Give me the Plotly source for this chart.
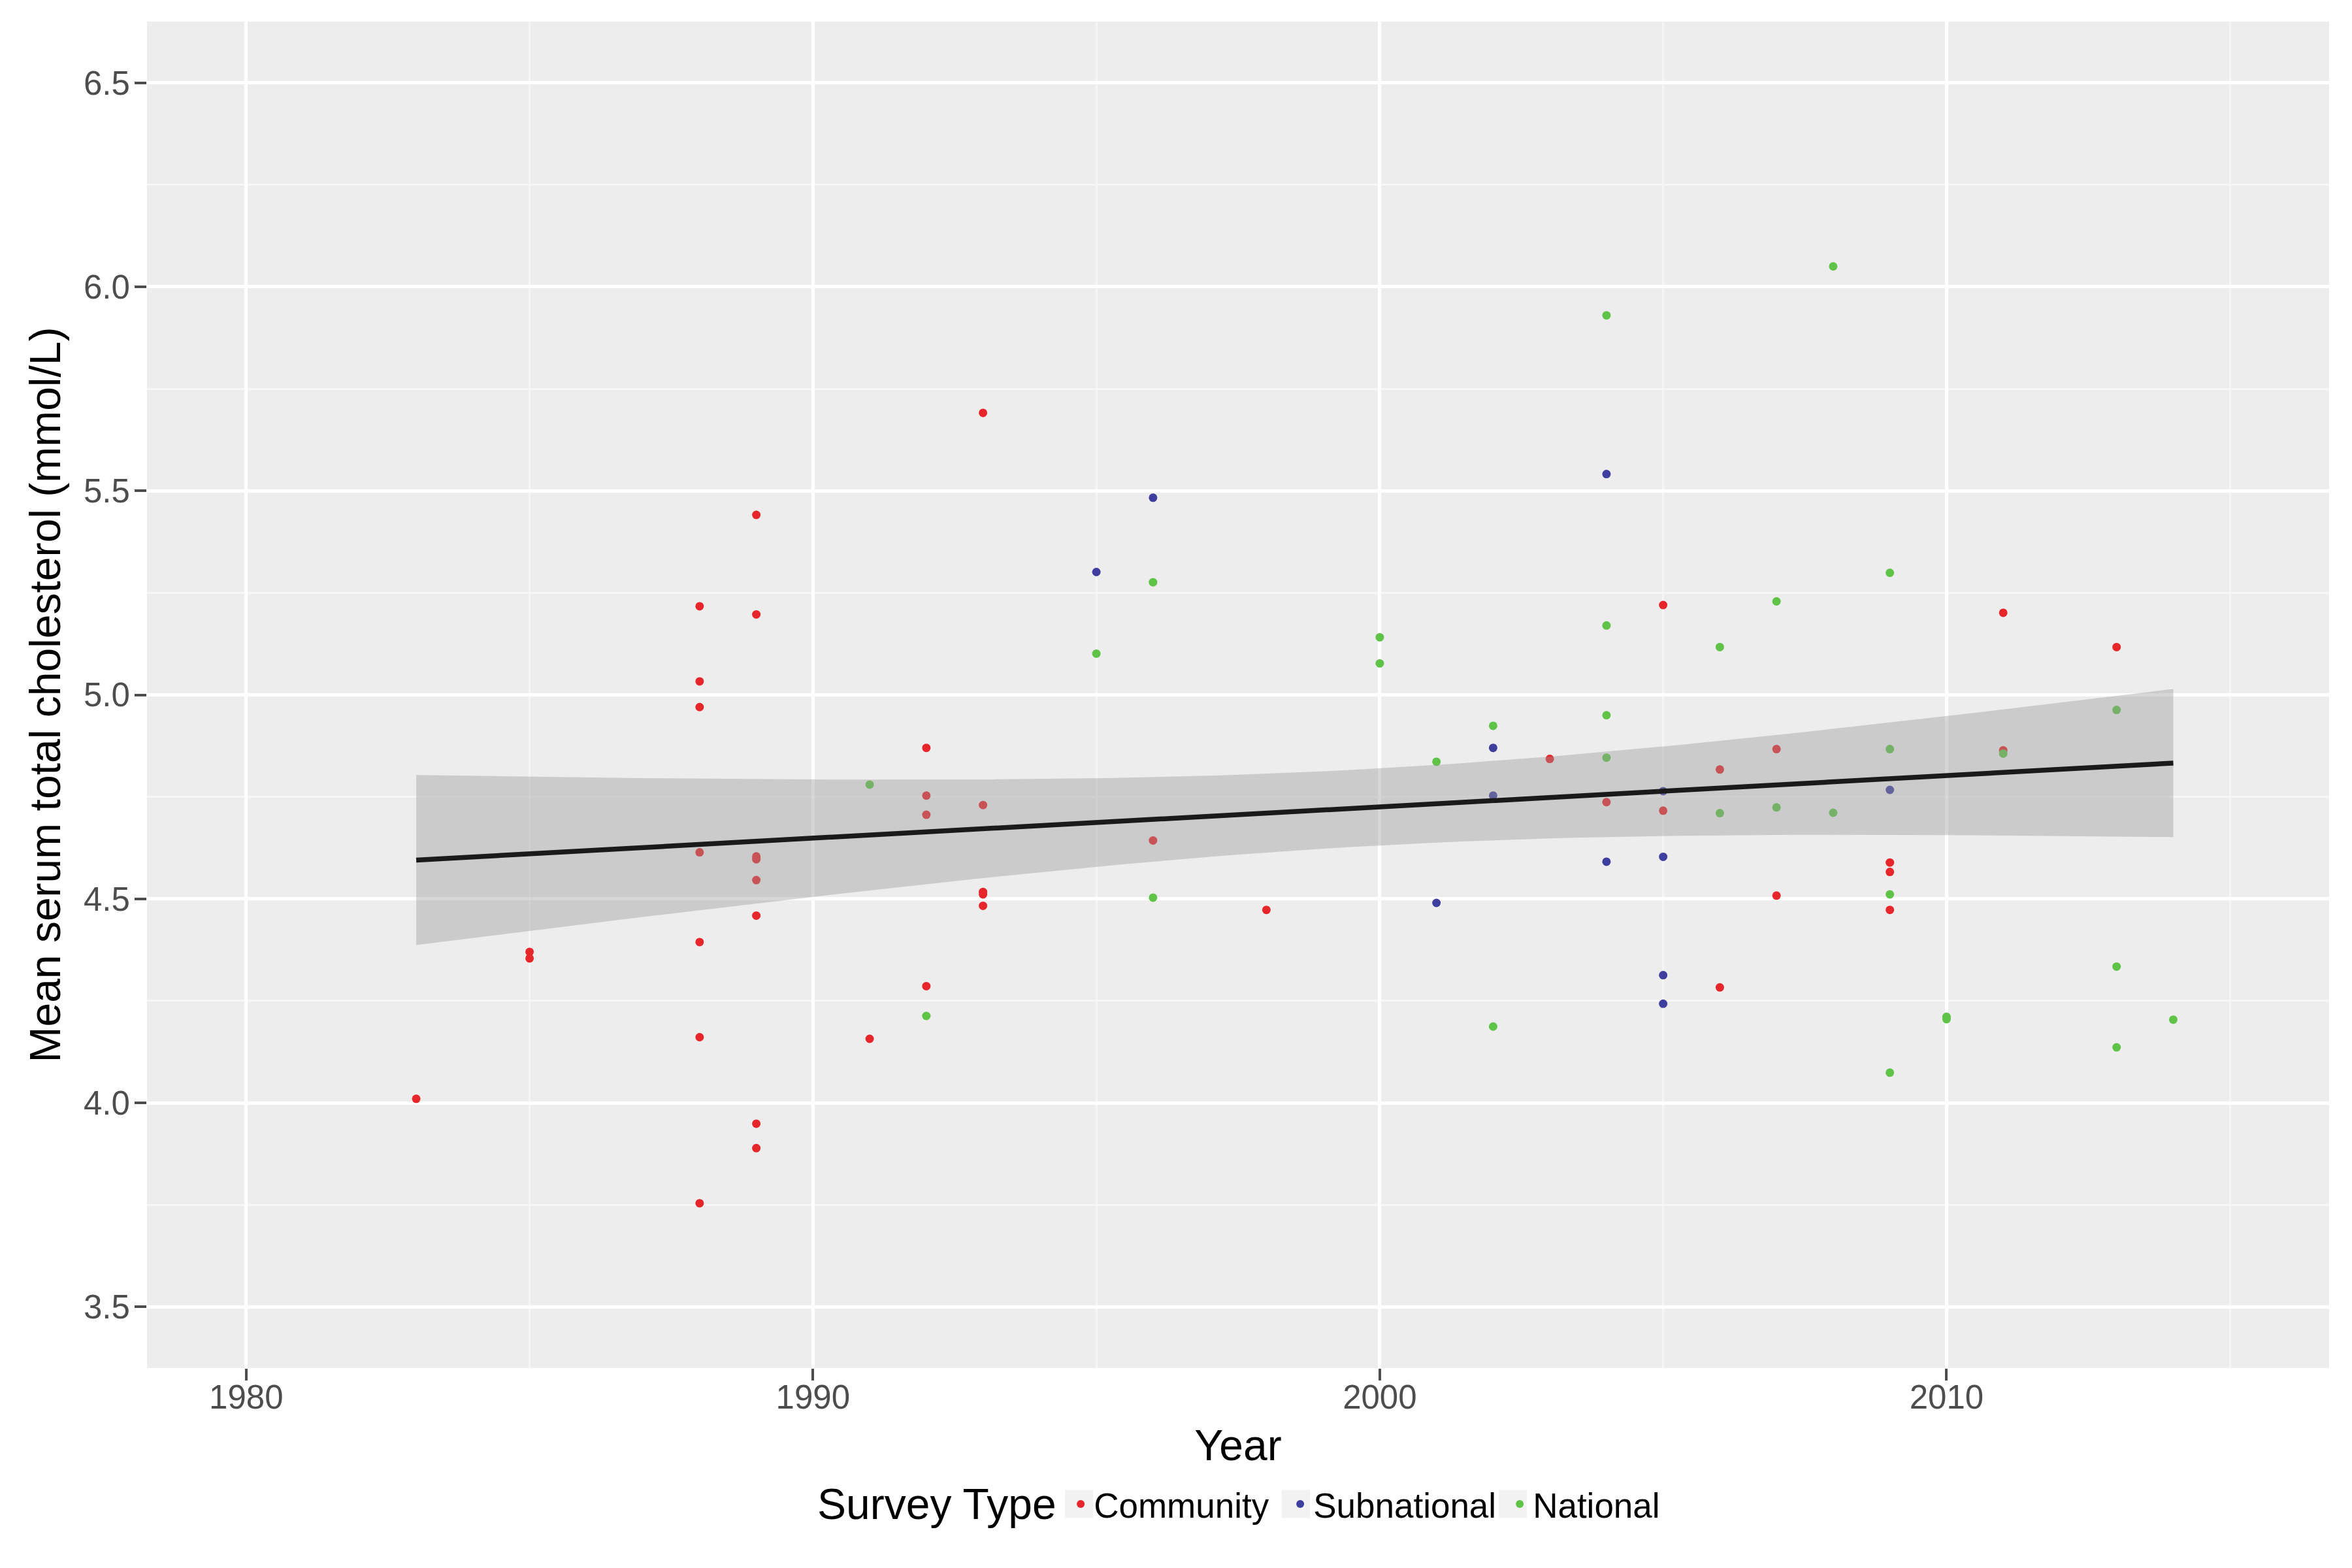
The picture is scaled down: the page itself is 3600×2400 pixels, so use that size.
import numpy as np
import plotly.graph_objects as go

# ---- data ----
community_year = [1983, 1985, 1985,
                  1988, 1988, 1988, 1988, 1988, 1988, 1988,
                  1989, 1989, 1989, 1989, 1989, 1989, 1989, 1989,
                  1991, 1992, 1992, 1992, 1992,
                  1993, 1993, 1993, 1993, 1993,
                  1996, 1998, 2003, 2004, 2005, 2005, 2006, 2006,
                  2007, 2007, 2009, 2009, 2009, 2011, 2011, 2013]
community_chol = [4.010, 4.370, 4.354,
                  5.217, 5.033, 4.970, 4.614, 4.394, 4.161, 3.754,
                  5.441, 5.197, 4.604, 4.597, 4.546, 4.459, 3.949, 3.889,
                  4.157, 4.870, 4.753, 4.706, 4.286,
                  5.691, 4.730, 4.517, 4.511, 4.483,
                  4.643, 4.473, 4.843, 4.737, 5.220, 4.716, 4.817, 4.283,
                  4.867, 4.508, 4.589, 4.566, 4.473, 5.201, 4.864, 5.117]

subnational_year = [1995, 1996, 2001, 2002, 2002, 2004, 2004,
                    2005, 2005, 2005, 2005, 2009]
subnational_chol = [5.301, 5.483, 4.490, 4.870, 4.753, 5.541, 4.591,
                    4.764, 4.603, 4.313, 4.243, 4.767]

national_year = [1991, 1992, 1995, 1996, 1996, 2000, 2000, 2001, 2002, 2002,
                 2004, 2004, 2004, 2004, 2006, 2006, 2007, 2007, 2008, 2008,
                 2009, 2009, 2009, 2009, 2010, 2010, 2011, 2013, 2013, 2013, 2014]
national_chol = [4.780, 4.213, 5.101, 5.276, 4.503, 5.141, 5.077, 4.836, 4.924, 4.187,
                 5.930, 5.170, 4.950, 4.846, 5.117, 4.710, 5.229, 4.724, 6.050, 4.711,
                 5.299, 4.867, 4.511, 4.074, 4.211, 4.205, 4.856, 4.963, 4.334, 4.136, 4.204]

series_names = ["Community", "Subnational", "National"]
series_colors = ["#E6262B", "#3E3E9E", "#5EC346"]

x_ticks = [1980, 1990, 2000, 2010]
x_minor = [1985, 1995, 2005, 2015]
y_ticks = [3.5, 4.0, 4.5, 5.0, 5.5, 6.0, 6.5]
y_tick_labels = ["3.5", "4.0", "4.5", "5.0", "5.5", "6.0", "6.5"]
y_minor = [3.75, 4.25, 4.75, 5.25, 5.75, 6.25]

# ---- linear fit with 95% confidence band (like geom_smooth(method="lm")) ----
all_x = np.array(community_year + subnational_year + national_year, dtype=float)
all_y = np.array(community_chol + subnational_chol + national_chol, dtype=float)
n = len(all_x)
slope, intercept = np.polyfit(all_x, all_y, 1)
resid = all_y - (intercept + slope * all_x)
sigma = np.sqrt(np.sum(resid ** 2) / (n - 2))
xbar = all_x.mean()
sxx = np.sum((all_x - xbar) ** 2)
t_crit = 1.988
xs = np.linspace(all_x.min(), all_x.max(), 80)
fit = intercept + slope * xs
se = sigma * np.sqrt(1.0 / n + (xs - xbar) ** 2 / sxx)
lo = fit - t_crit * se
hi = fit + t_crit * se

fig = go.Figure()
for name, xv, yv, col in zip(series_names,
                             [community_year, subnational_year, national_year],
                             [community_chol, subnational_chol, national_chol],
                             series_colors):
    fig.add_trace(go.Scatter(x=xv, y=yv, mode="markers", name=name,
                             marker=dict(color=col, size=13, line=dict(width=0))))

fig.add_trace(go.Scatter(x=np.concatenate([xs, xs[::-1]]),
                         y=np.concatenate([hi, lo[::-1]]),
                         fill="toself", fillcolor="rgba(153,153,153,0.4)",
                         line=dict(width=0), mode="lines",
                         showlegend=False, hoverinfo="skip"))
fig.add_trace(go.Scatter(x=xs, y=fit, mode="lines",
                         line=dict(color="#1A1A1A", width=7.5),
                         showlegend=False))

font_family = "Liberation Sans, Arial, Helvetica, sans-serif"

# legend geometry (pixels): panel spans 225..3565 horizontally, 33..2094 vertically
panel_left, panel_w, panel_bottom, panel_h = 225.0, 3340.0, 2094.0, 2061.0
legend_y_px = 2302.0
legend_y = (panel_bottom - legend_y_px) / panel_h
key_pitch = 332.0
key_first = 1651.5
key_half = 21.5
key_shapes = []
for i in range(len(series_names)):
    cx = key_first + i * key_pitch
    key_shapes.append(dict(type="rect", xref="paper", yref="paper", layer="below",
                           x0=(cx - key_half - panel_left) / panel_w,
                           x1=(cx + key_half - panel_left) / panel_w,
                           y0=legend_y - key_half / panel_h,
                           y1=legend_y + key_half / panel_h,
                           fillcolor="#F2F2F2", line=dict(width=0)))

fig.update_layout(
    width=3600, height=2400,
    margin=dict(l=217, r=43, t=25, b=314),
    paper_bgcolor="white",
    plot_bgcolor="#EDEDED",
    font=dict(family=font_family, color="black"),
    showlegend=True,
    legend=dict(orientation="h", x=0.4219, xanchor="left", y=legend_y, yanchor="middle",
                font=dict(size=53, color="black", family=font_family),
                itemsizing="constant", bgcolor="rgba(0,0,0,0)",
                entrywidth=key_pitch - 41, entrywidthmode="pixels"),
    annotations=[dict(text="Survey Type", xref="paper", yref="paper",
                      x=0.4173, y=legend_y, xanchor="right", yanchor="middle",
                      showarrow=False, font=dict(size=66, color="black", family=font_family))],
    shapes=key_shapes,
)

fig.update_xaxes(
    range=[1978.25, 2016.75],
    tickmode="array", tickvals=x_ticks, ticktext=[str(v) for v in x_ticks],
    showgrid=True, gridcolor="white", gridwidth=4.5,
    minor=dict(tickmode="array", tickvals=x_minor, showgrid=True,
               gridcolor="#F6F6F6", gridwidth=2.5, ticks=""),
    ticks="outside", ticklen=18, tickwidth=3.5, tickcolor="#4D4D4D",
    tickfont=dict(size=51, color="#4D4D4D", family=font_family),
    ticklabelstandoff=-18,
    zeroline=False, showline=False,
    title=dict(text="Year", font=dict(size=66, color="black"), standoff=22),
)
fig.update_yaxes(
    range=[3.35, 6.65],
    tickmode="array", tickvals=y_ticks, ticktext=y_tick_labels,
    showgrid=True, gridcolor="white", gridwidth=4.5,
    minor=dict(tickmode="array", tickvals=y_minor, showgrid=True,
               gridcolor="#F6F6F6", gridwidth=2.5, ticks=""),
    ticks="outside", ticklen=18, tickwidth=3.5, tickcolor="#4D4D4D",
    tickfont=dict(size=51, color="#4D4D4D", family=font_family),
    ticklabelstandoff=-3,
    zeroline=False, showline=False,
    title=dict(text="Mean serum total cholesterol (mmol/L)",
               font=dict(size=66, color="black"), standoff=13),
)

fig.write_html("out.html")
